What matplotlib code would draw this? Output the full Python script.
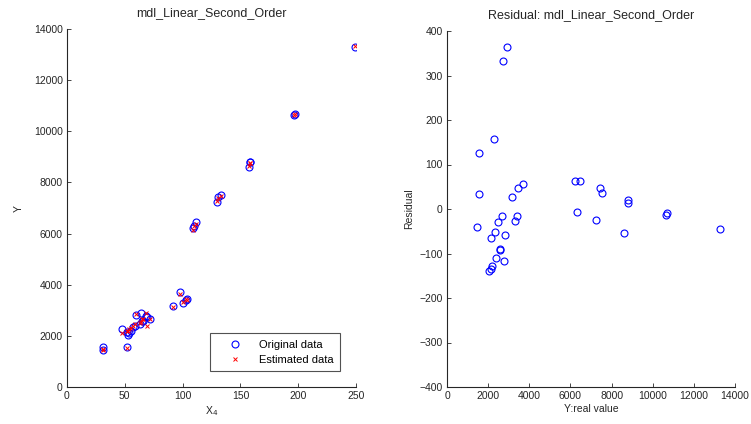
"""
mdl_Linear_Second_Order: fitted vs. original data, plus residual plot
"""

import numpy as np
import matplotlib
matplotlib.use('Agg')
import matplotlib.pyplot as plt

plt.rcParams['font.family'] = ['Liberation Sans Narrow', 'Liberation Sans', 'DejaVu Sans']
plt.rcParams['font.size'] = 7.5

# 数据
x4 = [31, 31, 52, 53, 54, 52, 55, 48, 57, 59, 63, 66, 65, 72, 69, 68, 60, 64,
      91.5, 100, 103, 104, 98, 108.7, 109.9, 111.6, 129.5, 130.9, 133,
      157.7, 158.3, 158.6, 196.5, 197.2, 249]
y_real = [1450, 1560, 1545, 2042, 2124, 2139, 2172, 2285, 2333, 2367, 2479,
          2577, 2577, 2659, 2737, 2786, 2805, 2902, 3170, 3300, 3410, 3440,
          3700, 6220, 6300, 6450, 7250, 7420, 7520, 8600, 8780, 8790,
          10630, 10680, 13290]
residual = [-40, 125, 34, -140, -134, -65, -128, 157, -52, -110, -30, -90, -93,
            -16.5, 332, -117, -58, 363, 27.5, -28, -16.5, 48, 56, 62, -6, 64,
            -25, 48, 37, -54, 21, 13, -13, -9, -46]

x4 = np.array(x4)
y_real = np.array(y_real)
residual = np.array(residual)
y_est = y_real - residual

TEXT = '#262626'


def style_axes(ax):
    # MATLAB 风格: box off, 刻度朝内
    ax.spines['top'].set_visible(False)
    ax.spines['right'].set_visible(False)
    for s in ('left', 'bottom'):
        ax.spines[s].set_color(TEXT)
        ax.spines[s].set_linewidth(0.8)
    ax.tick_params(direction='in', length=3, width=0.6, colors=TEXT, pad=3)


fig = plt.figure(figsize=(7.51, 4.24), dpi=100)

# --- 左图: 原始数据 vs 估计数据 ---
ax1 = fig.add_axes([67 / 751, 37 / 424, 289 / 751, 358 / 424])
ax1.plot(x4, y_real, 'o', mfc='none', mec='blue', ms=5, mew=0.8, label='Original data')
ax1.plot(x4, y_est, 'x', color='red', ms=3.5, mew=0.7, label='Estimated data')
ax1.set_xlim(0, 250)
ax1.set_ylim(0, 14000)
ax1.set_xticks(np.arange(0, 251, 50))
ax1.set_yticks(np.arange(0, 14001, 2000))
ax1.set_title('mdl_Linear_Second_Order', color=TEXT, pad=9)
ax1.set_xlabel('X$_4$', color=TEXT, labelpad=2)
ax1.set_ylabel('Y', color=TEXT, labelpad=7)
style_axes(ax1)
leg = ax1.legend(loc='lower right', fancybox=False, edgecolor=TEXT,
                 borderaxespad=1.4, borderpad=0.6, handlelength=3.2,
                 handletextpad=0.6, labelspacing=0.45, fontsize=8)
leg.get_frame().set_linewidth(0.8)

# --- 右图: 残差 ---
ax2 = fig.add_axes([447 / 751, 37 / 424, 288 / 751, 356 / 424])
ax2.plot(y_real, residual, 'o', mfc='none', mec='blue', ms=5, mew=0.8)
ax2.set_xlim(0, 14000)
ax2.set_ylim(-400, 400)
ax2.set_xticks(np.arange(0, 14001, 2000))
ax2.set_yticks(np.arange(-400, 401, 100))
ax2.set_title('Residual: mdl_Linear_Second_Order', color=TEXT, pad=9)
ax2.set_xlabel('Y:real value', color=TEXT, labelpad=2)
ax2.set_ylabel('Residual', color=TEXT, labelpad=4)
style_axes(ax2)

fig.savefig('out.png', dpi=100)
